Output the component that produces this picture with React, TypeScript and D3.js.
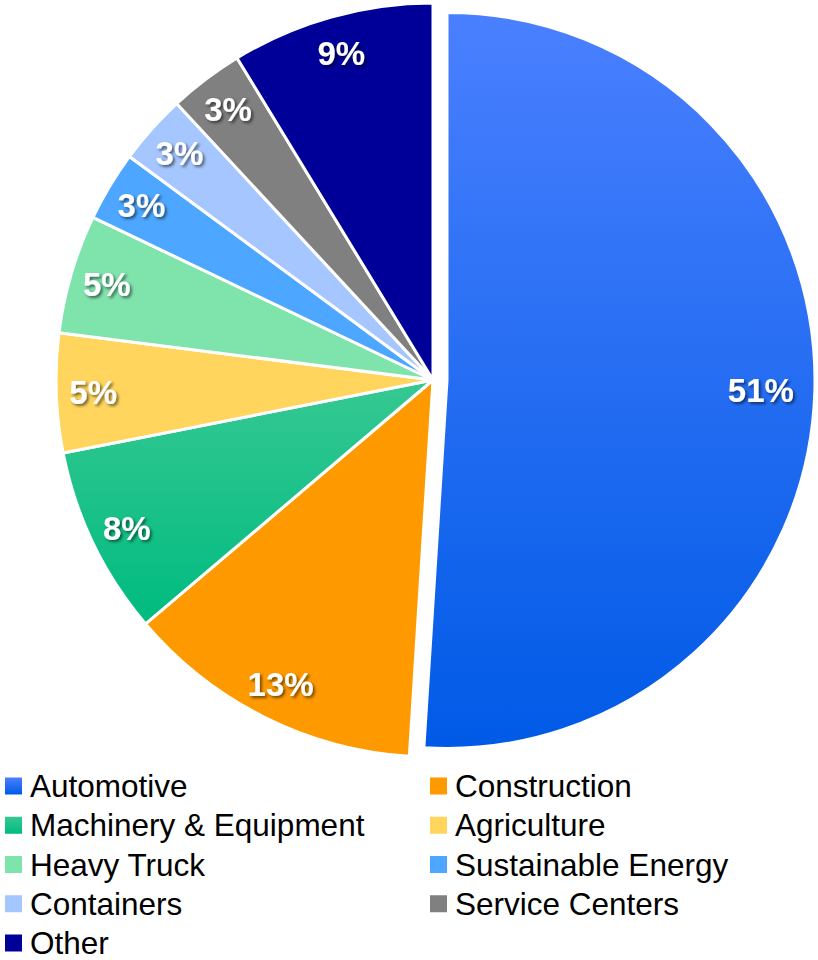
import { useEffect, useRef } from "react";
import * as d3 from "d3";

// segment names and shares (%)
const segments = [
  "Automotive",
  "Construction",
  "Machinery & Equipment",
  "Agriculture",
  "Heavy Truck",
  "Sustainable Energy",
  "Containers",
  "Service Centers",
  "Other",
];
const shares = [51, 12.8, 8.1, 5.1, 5.1, 3.0, 3.0, 3.2, 8.7];
const labels = ["51%", "13%", "8%", "5%", "5%", "3%", "3%", "3%", "9%"];

// [top, bottom] colour of each slice
const colors: [string, string][] = [
  ["#4a80ff", "#005ae6"],
  ["#ff9900", "#ff9900"],
  ["#36c893", "#00bb7f"],
  ["#ffd55e", "#ffd55e"],
  ["#7fe3ac", "#7fe3ac"],
  ["#4da6ff", "#4da6ff"],
  ["#a5c6ff", "#a5c6ff"],
  ["#808080", "#808080"],
  ["#000099", "#000099"],
];

export default function App() {
  const svgRef = useRef<SVGSVGElement>(null);
  const width = 818;
  const height = 960;

  useEffect(() => {
    if (!svgRef.current) return;
    const svg = d3.select(svgRef.current);
    svg.selectAll("*").remove();

    const defs = svg.append("defs");
    colors.forEach((c, i) => {
      const g = defs
        .append("linearGradient")
        .attr("id", `grad${i}`)
        .attr("x1", 0)
        .attr("y1", 0)
        .attr("x2", 0)
        .attr("y2", 1);
      g.append("stop").attr("offset", "0%").attr("stop-color", c[0]);
      g.append("stop").attr("offset", "100%").attr("stop-color", c[1]);
    });
    const shadow = defs
      .append("filter")
      .attr("id", "shadow")
      .attr("x", "-20%")
      .attr("y", "-20%")
      .attr("width", "140%")
      .attr("height", "140%");
    shadow
      .append("feDropShadow")
      .attr("dx", 2)
      .attr("dy", 2)
      .attr("stdDeviation", 1.5)
      .attr("flood-color", "#000")
      .attr("flood-opacity", 0.55);

    const cx = 433;
    const cy = 380;
    const r = 377;
    const explodedR = 368;
    const explode = 14;

    const pie = d3
      .pie<number>()
      .sort(null)
      .value((d) => d)
      .startAngle(0)
      .endAngle(2 * Math.PI);
    const arcs = pie(shares);

    const arcGen = d3.arc<d3.PieArcDatum<number>>().innerRadius(0);

    const g = svg.append("g").attr("transform", `translate(${cx},${cy})`);

    arcs.forEach((a, i) => {
      const exploded = i === 0;
      const mid = (a.startAngle + a.endAngle) / 2;
      const ox = exploded ? Math.sin(mid) * explode : 0;
      const oy = exploded ? -Math.cos(mid) * explode : 0;
      const outer = exploded ? explodedR : r;
      g.append("g")
        .attr("transform", `translate(${ox},${oy})`)
        .append("path")
        .attr("d", arcGen.outerRadius(outer)(a) as string)
        .attr("fill", `url(#grad${i})`)
        .attr("stroke", "#fff")
        .attr("stroke-width", 3)
        .attr("stroke-linejoin", "round");
    });

    // percentage labels
    arcs.forEach((a, i) => {
      const exploded = i === 0;
      const mid = (a.startAngle + a.endAngle) / 2;
      const ox = exploded ? Math.sin(mid) * explode : 0;
      const oy = exploded ? -Math.cos(mid) * explode : 0;
      const lr = exploded ? 314 : 340;
      g.append("text")
        .attr("x", ox + Math.sin(mid) * lr)
        .attr("y", oy - Math.cos(mid) * lr)
        .attr("dy", "0.36em")
        .attr("text-anchor", "middle")
        .attr("font-family", "'Liberation Sans', Arial, sans-serif")
        .attr("font-weight", "bold")
        .attr("font-size", 33)
        .attr("fill", "#fff")
        .attr("filter", "url(#shadow)")
        .text(labels[i]);
    });

    // legend, two columns filled row by row
    const rowY = d3.scaleLinear().domain([0, 4]).range([786, 943]);
    const colX = [5, 430];
    const legend = svg.append("g");
    segments.forEach((name, k) => {
      const x = colX[k % 2];
      const y = rowY(Math.floor(k / 2));
      legend
        .append("rect")
        .attr("x", x)
        .attr("y", y - 8.5)
        .attr("width", 17)
        .attr("height", 17)
        .attr("fill", `url(#grad${k})`);
      legend
        .append("text")
        .attr("x", x + 25)
        .attr("y", y)
        .attr("dy", "0.35em")
        .attr("font-family", "'Liberation Sans', Arial, sans-serif")
        .attr("font-size", 31.5)
        .attr("fill", "#000")
        .text(name);
    });
  }, []);

  return (
    <svg
      ref={svgRef}
      width={width}
      height={height}
      style={{ position: "absolute", left: 0, top: 0, background: "#fff" }}
    />
  );
}
